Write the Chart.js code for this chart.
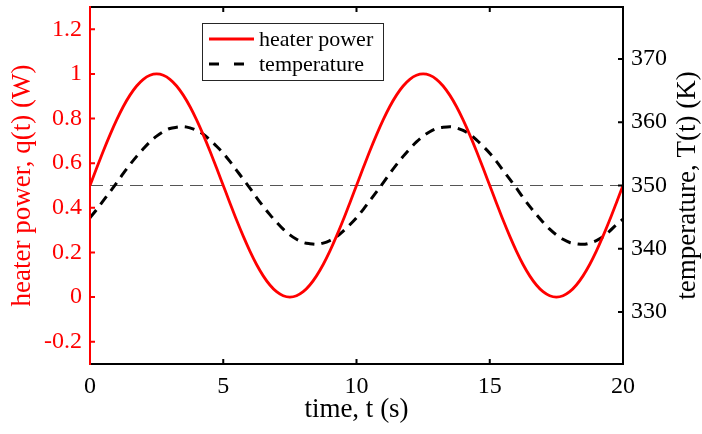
<!DOCTYPE html>
<html>
<head>
<meta charset="utf-8">
<script src="https://cdn.jsdelivr.net/npm/chart.js@4.4.0/dist/chart.umd.min.js"></script>
<style>
  html, body { margin: 0; padding: 0; background: #fff; }
  #wrap { width: 702px; height: 434px; }
</style>
</head>
<body>
<div id="wrap"><canvas id="grafica" width="702" height="434"></canvas></div>
<script>
// datos (cada 0.25 s)
var tiempos = [0, 0.25, 0.5, 0.75, 1, 1.25, 1.5, 1.75, 2, 2.25, 2.5, 2.75, 3, 3.25, 3.5, 3.75, 4, 4.25, 4.5, 4.75,
               5, 5.25, 5.5, 5.75, 6, 6.25, 6.5, 6.75, 7, 7.25, 7.5, 7.75, 8, 8.25, 8.5, 8.75, 9, 9.25, 9.5, 9.75,
               10, 10.25, 10.5, 10.75, 11, 11.25, 11.5, 11.75, 12, 12.25, 12.5, 12.75, 13, 13.25, 13.5, 13.75, 14, 14.25, 14.5, 14.75,
               15, 15.25, 15.5, 15.75, 16, 16.25, 16.5, 16.75, 17, 17.25, 17.5, 17.75, 18, 18.25, 18.5, 18.75, 19, 19.25, 19.5, 19.75, 20];
var potencia = [0.500, 0.578, 0.655, 0.727, 0.794, 0.854, 0.905, 0.946, 0.976, 0.994, 1.000, 0.994, 0.976, 0.946, 0.905, 0.854, 0.794, 0.727, 0.655, 0.578,
                0.500, 0.422, 0.345, 0.273, 0.206, 0.146, 0.095, 0.054, 0.024, 0.006, 0.000, 0.006, 0.024, 0.054, 0.095, 0.146, 0.206, 0.273, 0.345, 0.422,
                0.500, 0.578, 0.655, 0.727, 0.794, 0.854, 0.905, 0.946, 0.976, 0.994, 1.000, 0.994, 0.976, 0.946, 0.905, 0.854, 0.794, 0.727, 0.655, 0.578,
                0.500, 0.422, 0.345, 0.273, 0.206, 0.146, 0.095, 0.054, 0.024, 0.006, 0.000, 0.006, 0.024, 0.054, 0.095, 0.146, 0.206, 0.273, 0.345, 0.422, 0.500];
var temperatura = [344.9, 346.2, 347.6, 349.0, 350.4, 351.9, 353.3, 354.6, 355.8, 356.9, 357.8, 358.5, 359.0, 359.2, 359.3, 359.1, 358.7, 358.1, 357.2, 356.2,
                   355.1, 353.8, 352.4, 351.0, 349.6, 348.1, 346.7, 345.4, 344.2, 343.1, 342.2, 341.5, 341.0, 340.8, 340.7, 340.9, 341.3, 341.9, 342.8, 343.8,
                   344.9, 346.2, 347.6, 349.0, 350.4, 351.9, 353.3, 354.6, 355.8, 356.9, 357.8, 358.5, 359.0, 359.2, 359.3, 359.1, 358.7, 358.1, 357.2, 356.2,
                   355.1, 353.8, 352.4, 351.0, 349.6, 348.1, 346.7, 345.4, 344.2, 343.1, 342.2, 341.5, 341.0, 340.8, 340.7, 340.9, 341.3, 341.9, 342.8, 343.8, 344.7];
var referenciaT = [0, 20];
var referenciaQ = [0.5, 0.5];
var ticksTiempo = [0, 5, 10, 15, 20];
var ticksPotencia = [-0.2, 0, 0.2, 0.4, 0.6, 0.8, 1, 1.2];
var ticksTemp = [330, 340, 350, 360, 370];

var fuente = "'Liberation Serif', 'Times New Roman', serif";

function pares(xs, ys) {
    return xs.map(function (x, i) { return { x: x, y: ys[i] }; });
}

// marco tipo matlab con ticks hacia dentro + leyenda + titulo derecho
var marco = {
    id: "marco",
    afterDatasetsDraw: function (chart) {
        var ctx = chart.ctx;
        var a = chart.chartArea;
        var sx = chart.scales.x, sy = chart.scales.y, sy2 = chart.scales.y2;
        var L = 5;
        ctx.save();
        ctx.lineWidth = 2;
        ctx.strokeStyle = "#000";
        ctx.beginPath();
        ctx.moveTo(a.left, a.top); ctx.lineTo(a.right, a.top); ctx.lineTo(a.right, a.bottom); ctx.lineTo(a.left, a.bottom);
        ticksTiempo.forEach(function (v) {
            var px = sx.getPixelForValue(v);
            ctx.moveTo(px, a.bottom); ctx.lineTo(px, a.bottom - L);
            ctx.moveTo(px, a.top); ctx.lineTo(px, a.top + L);
        });
        ticksTemp.forEach(function (v) {
            var py = sy2.getPixelForValue(v);
            ctx.moveTo(a.right, py); ctx.lineTo(a.right - L, py);
        });
        ctx.stroke();

        ctx.strokeStyle = "#ff0000";
        ctx.beginPath();
        ctx.moveTo(a.left, a.top - 1); ctx.lineTo(a.left, a.bottom + 1);
        ticksPotencia.forEach(function (v) {
            var py = sy.getPixelForValue(v);
            ctx.moveTo(a.left, py); ctx.lineTo(a.left + L, py);
        });
        ctx.stroke();

        // leyenda
        var bx = 202, by = 23, bw = 181, bh = 57;
        ctx.fillStyle = "#fff";
        ctx.fillRect(bx, by, bw, bh);
        ctx.lineWidth = 1;
        ctx.strokeStyle = "#262626";
        ctx.strokeRect(bx + 0.5, by + 0.5, bw, bh);
        ctx.font = "22px " + fuente;
        ctx.textBaseline = "middle";
        ctx.textAlign = "left";
        var filas = [
            { ds: chart.data.datasets[0], y: by + 16, dash: [] },
            { ds: chart.data.datasets[1], y: by + 41, dash: [10, 15] }
        ];
        filas.forEach(function (f) {
            ctx.strokeStyle = f.ds.borderColor;
            ctx.lineWidth = f.ds.borderWidth;
            ctx.setLineDash(f.dash);
            ctx.beginPath();
            ctx.moveTo(bx + 7, f.y); ctx.lineTo(bx + 52, f.y);
            ctx.stroke();
            ctx.setLineDash([]);
            ctx.fillStyle = "#000";
            ctx.fillText(f.ds.label, bx + 57, f.y + 1);
        });

        // titulo eje derecho (leido de abajo hacia arriba)
        ctx.translate(688, (a.top + a.bottom) / 2);
        ctx.rotate(-Math.PI / 2);
        ctx.textAlign = "center";
        ctx.font = "27px " + fuente;
        ctx.fillText("temperature, T(t) (K)", 0, 0);
        ctx.restore();
    }
};

function sinRelleno(s) {
    s.paddingTop = 0;
    s.paddingBottom = 0;
}

new Chart(document.getElementById("grafica"), {
    type: "line",
    data: {
        datasets: [
            {
                label: "heater power",
                data: pares(tiempos, potencia),
                borderColor: "#ff0000",
                borderWidth: 2.8,
                pointRadius: 0,
                cubicInterpolationMode: "monotone",
                yAxisID: "y",
            },
            {
                label: "temperature",
                data: pares(tiempos, temperatura),
                borderColor: "#000000",
                borderWidth: 3,
                borderDash: [10, 7],
                pointRadius: 0,
                cubicInterpolationMode: "monotone",
                yAxisID: "y2",
            },
            {
                label: "",
                data: pares(referenciaT, referenciaQ),
                borderColor: "#555555",
                borderWidth: 1.2,
                borderDash: [13, 7],
                pointRadius: 0,
                yAxisID: "y",
            },
        ],
    },
    options: {
        responsive: false,
        animation: false,
        devicePixelRatio: 1,
        layout: { padding: { top: 7 } },
        plugins: { legend: { display: false }, tooltip: { enabled: false } },
        scales: {
            x: {
                type: "linear",
                min: 0,
                max: 20,
                afterBuildTicks: function (s) { s.ticks = ticksTiempo.map(function (v) { return { value: v }; }); },
                afterFit: function (s) { s.height = 70; s.paddingLeft = 0; s.paddingRight = 0; },
                grid: { display: false, drawTicks: false },
                border: { display: false },
                ticks: { color: "#000", padding: 8, font: { family: fuente, size: 24 }, maxRotation: 0 },
                title: { display: true, text: "time, t (s)", color: "#000", padding: { top: 0, bottom: 8 }, font: { family: fuente, size: 27 } },
            },
            y: {
                position: "left",
                min: -0.3,
                max: 1.3,
                afterBuildTicks: function (s) { s.ticks = ticksPotencia.map(function (v) { return { value: v }; }); },
                afterFit: function (s) { s.width = 90; sinRelleno(s); },
                grid: { display: false, drawTicks: false },
                border: { display: false },
                ticks: { color: "#ff0000", padding: 8, font: { family: fuente, size: 24 }, callback: function (v) { return String(v); } },
                title: { display: true, text: "heater power, q(t) (W)", color: "#ff0000", padding: { top: 7, bottom: 0 }, font: { family: fuente, size: 27 } },
            },
            y2: {
                position: "right",
                min: 321.8,
                max: 378.2,
                afterBuildTicks: function (s) { s.ticks = ticksTemp.map(function (v) { return { value: v }; }); },
                afterFit: function (s) { s.width = 79; sinRelleno(s); },
                grid: { display: false, drawTicks: false },
                border: { display: false },
                ticks: { color: "#000", padding: 8, font: { family: fuente, size: 24 }, callback: function (v) { return String(v); } },
            },
        },
    },
    plugins: [marco],
});
</script>
</body>
</html>
